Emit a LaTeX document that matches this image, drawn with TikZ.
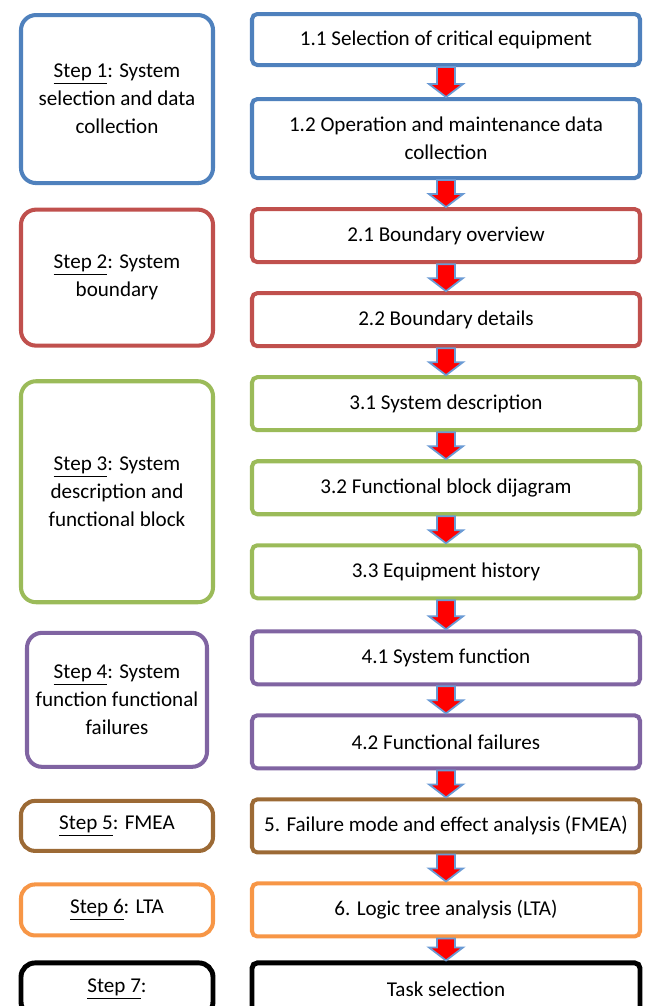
\documentclass[tikz,border=0pt]{standalone}
\usepackage{fontspec}
\setmainfont{Carlito}
\usetikzlibrary{positioning, calc}

\definecolor{stepblue}{HTML}{4F81BD}
\definecolor{stepred}{HTML}{C0504D}
\definecolor{stepgreen}{HTML}{9BBB59}
\definecolor{steppurple}{HTML}{8064A2}
\definecolor{stepbrown}{HTML}{9C6A35}
\definecolor{steporange}{HTML}{F79646}
\definecolor{arrowblue}{HTML}{6A9AD4}

% block arrow from the bottom of one task box to the top of the next
\newcommand{\flowarrow}[2]{%
  \draw[flowarr] ($(#1.south)+(-0.18,0)$) -- ($(#2.north)+(-0.18,0.26)$)
    -- ($(#2.north)+(-0.34,0.26)$) -- (#2.north)
    -- ($(#2.north)+(0.34,0.26)$) -- ($(#2.north)+(0.18,0.26)$)
    -- ($(#1.south)+(0.18,0)$) -- cycle;}

\begin{document}
\begin{tikzpicture}[
  font=\fontsize{12}{16}\selectfont,
  task/.style={draw, line width=2.3pt, rounded corners=3pt, fill=white, align=center,
               minimum width=7.76cm, minimum height=1.06cm, inner sep=2pt},
  phase/.style={draw, line width=2.3pt, rounded corners=8pt, fill=white, align=center,
                minimum width=3.84cm, inner sep=2pt},
  flowarr/.style={draw=arrowblue, line width=1pt, fill=red, line join=miter},
  node distance=0.54cm
]
\useasboundingbox (0,0) rectangle (12.94,-20.12);
\coordinate (lcol) at (2.34,0);

% right column: the tasks
\node[task, draw=stepblue, minimum height=1.02cm, anchor=north] (b11) at (8.92,-0.24)
  {1.1 Selection of critical equipment};
\node[task, draw=stepblue, minimum height=1.58cm, below=0.6cm of b11] (b12)
  {1.2 Operation and maintenance data\\collection};
\node[task, draw=stepred, below=of b12] (b21) {2.1 Boundary overview};
\node[task, draw=stepred, below=of b21] (b22) {2.2 Boundary details};
\node[task, draw=stepgreen, below=of b22] (b31) {3.1 System description};
\node[task, draw=stepgreen, below=of b31] (b32) {3.2 Functional block dijagram};
\node[task, draw=stepgreen, below=of b32] (b33) {3.3 Equipment history};
\node[task, draw=steppurple, below=0.58cm of b33] (b41) {4.1 System function};
\node[task, draw=steppurple, below=of b41] (b42) {4.2 Functional failures};
\node[task, draw=stepbrown, below=of b42] (b5) {5. Failure mode and effect analysis (FMEA)};
\node[task, draw=steporange, below=of b5] (b6) {6. Logic tree analysis (LTA)};
\node[task, draw=black, line width=2.8pt, below=0.44cm of b6] (b7) {Task selection};

% left column: the steps
\coordinate (c1) at ($(b11.north)!.5!(b12.south)$);
\coordinate (c2) at ($(b21.north)!.5!(b22.south)$);
\coordinate (c3) at ($(b31.north)!.5!(b33.south)$);
\coordinate (c4) at ($(b41.north)!.5!(b42.south)$);
\node[phase, draw=stepblue, minimum height=3.36cm, rounded corners=0.3cm] (s1) at ([yshift=-0.06cm]c1 -| lcol)
  {\underline{Step 1}: System\\selection and data\\collection};
\node[phase, draw=stepred, minimum height=2.72cm, rounded corners=0.3cm] (s2) at (c2 -| lcol)
  {\underline{Step 2}: System\\boundary};
\node[phase, draw=stepgreen, minimum height=4.42cm, rounded corners=0.3cm] (s3) at ([yshift=-0.08cm]c3 -| lcol)
  {\underline{Step 3}: System\\description and\\functional block};
\node[phase, draw=steppurple, minimum height=2.68cm, minimum width=3.6cm, rounded corners=0.3cm] (s4) at (c4 -| lcol)
  {\underline{Step 4}: System\\function functional\\failures};
\node[phase, draw=stepbrown, minimum height=1.0cm] (s5) at (b5 -| lcol) {\underline{Step 5}: FMEA};
\node[phase, draw=steporange, minimum height=1.02cm] (s6) at (b6 -| lcol) {\underline{Step 6}: LTA};
\node[phase, draw=black, line width=2.8pt, minimum height=1.06cm] (s7) at (b7 -| lcol) {\underline{Step 7}:};

% arrows between the tasks
\flowarrow{b11}{b12}
\flowarrow{b12}{b21}
\flowarrow{b21}{b22}
\flowarrow{b22}{b31}
\flowarrow{b31}{b32}
\flowarrow{b32}{b33}
\flowarrow{b33}{b41}
\flowarrow{b41}{b42}
\flowarrow{b42}{b5}
\flowarrow{b5}{b6}
\flowarrow{b6}{b7}
\end{tikzpicture}
\end{document}
